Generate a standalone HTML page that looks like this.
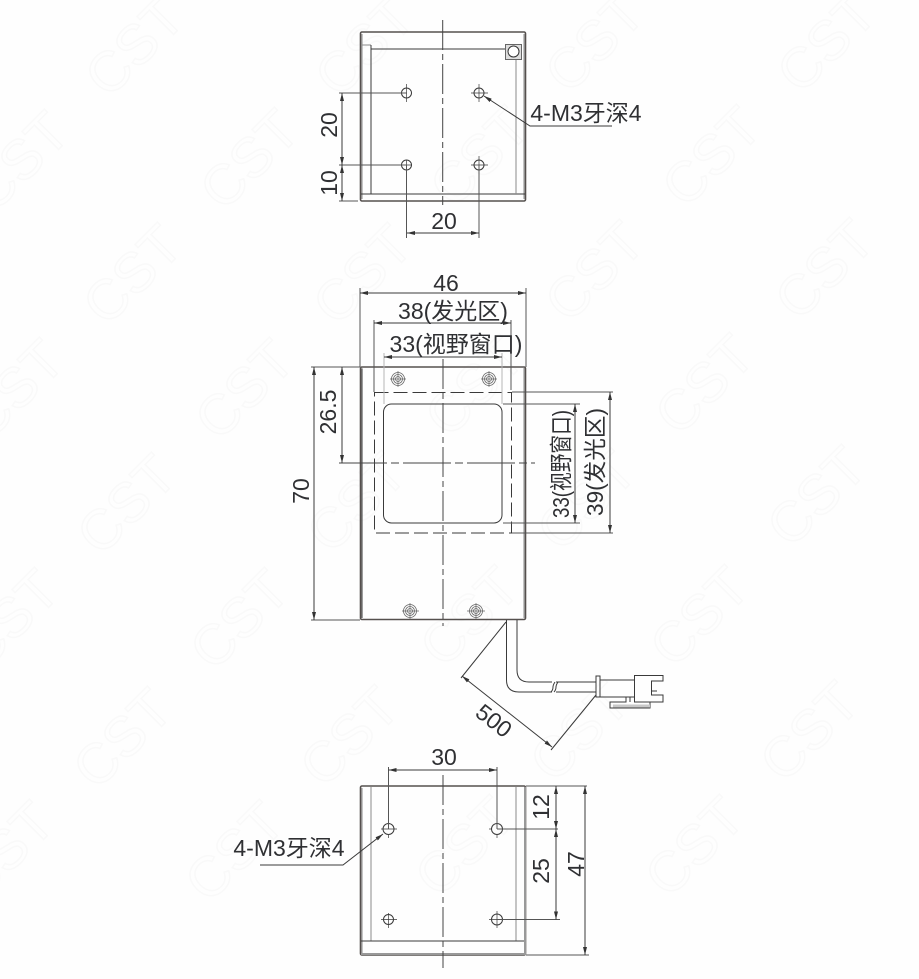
<!DOCTYPE html>
<html>
<head>
<meta charset="utf-8">
<style>
html,body{margin:0;padding:0;background:#fff;width:919px;height:979px;overflow:hidden}
svg{display:block}
.wm text{font-family:"Liberation Sans",sans-serif;font-size:56px;fill:none;stroke:#f9f9f9;stroke-width:1.5;text-anchor:middle}
.t{font-family:"Liberation Sans","Noto Sans CJK SC",sans-serif;font-size:23px;fill:#2f3033;text-anchor:middle}
.l{stroke:#3a3a3a;stroke-width:1;fill:none}
.g{stroke:#8a8a8a;stroke-width:1;fill:none}
.b{stroke:#55504e;stroke-width:1.6;fill:none}
.d{stroke:#3a3a3a;stroke-width:1;fill:none;marker-start:url(#a);marker-end:url(#a)}
.c{stroke:#444;stroke-width:1;fill:none;stroke-dasharray:30 4 6 4}
.h{stroke:#3a3a3a;stroke-width:1;fill:none;stroke-dasharray:14 5}
.s{stroke:#666;stroke-width:.8;fill:none}
</style>
</head>
<body>
<svg width="919" height="979" viewBox="0 0 919 979" xmlns="http://www.w3.org/2000/svg">
<defs>
<marker id="a" viewBox="0 0 8 4" refX="8" refY="2" markerWidth="8" markerHeight="4" markerUnits="userSpaceOnUse" orient="auto-start-reverse"><path d="M0 0L8 2L0 4Z" fill="#333"/></marker>
</defs>
<rect width="919" height="979" fill="#fefefe"/>
<g class="wm">
<text transform="translate(148,60) rotate(-45)">CST</text><text transform="translate(378,60) rotate(-45)">CST</text><text transform="translate(608,56) rotate(-45)">CST</text><text transform="translate(840,56) rotate(-45)">CST</text>
<text transform="translate(33,175) rotate(-45)">CST</text><text transform="translate(263,173) rotate(-45)">CST</text><text transform="translate(493,170) rotate(-45)">CST</text><text transform="translate(725,170) rotate(-45)">CST</text>
<text transform="translate(146,288) rotate(-45)">CST</text><text transform="translate(376,288) rotate(-45)">CST</text><text transform="translate(608,285) rotate(-45)">CST</text><text transform="translate(838,283) rotate(-45)">CST</text>
<text transform="translate(28,403) rotate(-45)">CST</text><text transform="translate(258,403) rotate(-45)">CST</text><text transform="translate(488,400) rotate(-45)">CST</text><text transform="translate(718,398) rotate(-45)">CST</text>
<text transform="translate(140,518) rotate(-45)">CST</text><text transform="translate(370,516) rotate(-45)">CST</text><text transform="translate(600,514) rotate(-45)">CST</text><text transform="translate(830,510) rotate(-45)">CST</text>
<text transform="translate(23,633) rotate(-45)">CST</text><text transform="translate(253,633) rotate(-45)">CST</text><text transform="translate(483,630) rotate(-45)">CST</text><text transform="translate(713,630) rotate(-45)">CST</text>
<text transform="translate(136,752) rotate(-45)">CST</text><text transform="translate(363,750) rotate(-45)">CST</text><text transform="translate(593,745) rotate(-45)">CST</text><text transform="translate(823,745) rotate(-45)">CST</text>
<text transform="translate(18,865) rotate(-45)">CST</text><text transform="translate(248,865) rotate(-45)">CST</text><text transform="translate(478,860) rotate(-45)">CST</text><text transform="translate(708,860) rotate(-45)">CST</text>
</g>

<!-- TOP VIEW -->
<rect class="b" x="360.5" y="32" width="165" height="169" rx="1.5"/>
<path class="g" d="M362 45H371M362 34V199M524 34V199M362 194H524"/>
<path class="l" d="M371 45V194M371 49H505M361 194H525"/>
<path class="g" d="M516 59V194"/>
<rect x="505.5" y="44.5" width="16" height="15" fill="#ddd" stroke="#666"/>
<circle cx="513.5" cy="51.5" r="5.5" fill="#fff" stroke="#333"/>
<path class="c" d="M442.7 20V205"/>
<g class="l">
<circle cx="406.5" cy="93" r="5"/><circle cx="479" cy="93" r="5"/><circle cx="406.5" cy="165" r="5"/><circle cx="479" cy="165" r="5"/>
<path d="M406.5 84V102M474 93H488M479 84V102M471 93H474M406.5 160V170M400 165H412M479 156V174M471 165H488" stroke-width=".7"/>
</g>
<path class="g" d="M339 93H407M339 165H407M339 201H358M406.5 165V238M479 165V238" style="stroke:#555"/>
<path class="d" d="M342 93V165"/>
<path class="d" d="M342 165V201"/>
<path class="d" d="M407 233H479"/>
<text class="t" transform="translate(337,125) rotate(-90)">20</text>
<text class="t" transform="translate(337,183) rotate(-90)">10</text>
<text class="t" x="444" y="229">20</text>
<path class="l" d="M484 96L530 126H612" style="marker-start:url(#a)"/>
<text class="t" x="586" y="121">4-M3牙深4</text>

<!-- MIDDLE VIEW -->
<rect class="b" x="360.5" y="367" width="165" height="252.5" rx="1.5"/>
<path class="g" d="M362 368V618M524 368V618"/>
<path class="l" d="M362 369V618"/>
<rect x="374.5" y="392.5" width="137" height="140.500" class="h"/>
<rect x="383.500" y="404" width="118.500" height="119" rx="8" class="l"/>
<path class="c" d="M443 359V626"/>
<path class="c" d="M339 463H535" style="stroke-dasharray:48 4 8 4"/>
<g class="s">
<circle cx="398" cy="379" r="6.500"/><circle cx="398" cy="379" r="4.500"/><circle cx="398" cy="379" r="2.500"/>
<circle cx="489" cy="379" r="6.500"/><circle cx="489" cy="379" r="4.500"/><circle cx="489" cy="379" r="2.500"/>
<circle cx="410" cy="611" r="6.500"/><circle cx="410" cy="611" r="4.500"/><circle cx="410" cy="611" r="2.500"/>
<circle cx="476" cy="611" r="6.500"/><circle cx="476" cy="611" r="4.500"/><circle cx="476" cy="611" r="2.500"/>
<path d="M390 379H406M398 371V387M481 379H497M489 371V387M402 611H419M410 603V619M467 611H485M476 603V619" stroke-width=".7"/>
</g>
<path class="g" d="M360 288V367M526 288V367M374 320V392M511 320V390M311 367H360M311 620H360M512 392H613M503 404H580M503 523H580M512 533H613" style="stroke:#555"/>
<path d="M384 353V404M502 353V404" stroke="#b5b5b5" stroke-width="1" fill="none"/>
<path class="d" d="M360 293H526"/>
<path class="d" d="M374 323H511"/>
<path class="d" d="M384 357H502"/>
<path class="d" d="M314 367V620"/>
<path class="d" d="M342 367V463"/>
<path class="d" d="M575 404V523"/>
<path class="d" d="M610 392V533"/>
<text class="t" x="446" y="291">46</text>
<text class="t" x="453" y="319">38(发光区)</text>
<text class="t" x="456" y="352">33(视野窗口)</text>
<text class="t" transform="translate(309,491) rotate(-90)">70</text>
<text class="t" transform="translate(336,412) rotate(-90)">26.5</text>
<text class="t" transform="translate(569,464) rotate(-90)" textLength="108" lengthAdjust="spacingAndGlyphs">33(视野窗口)</text>
<text class="t" transform="translate(603,462) rotate(-90)" textLength="108" lengthAdjust="spacingAndGlyphs">39(发光区)</text>

<!-- CABLE -->
<path class="l" d="M506.500 620V680Q506.500 692 519 692H552M517 620V670Q517 682 529 682H552M556 682H596M556 692H596"/>
<path class="l" d="M555 682Q553 685 553 687Q553 690 551 692M558 682Q556 685 556 687Q556 690 554 692" stroke-width=".8"/>
<path class="l" d="M596 676H600V697H596ZM600 680H635M600 697H635" />
<path class="l" d="M634.500 675.500H663V681H651.500V695H663V702H634.500ZM651.500 688V691H657M630 697V702"/>
<path class="l" d="M626 697V702H610V708H650V702"/>
<rect x="613" y="704.500" width="37" height="3" fill="#c8c8c8"/>

<!-- 500 dim -->
<path class="l" d="M506 622L461 678M596 695L551 750"/>
<path class="d" d="M462 676L552 747"/>
<text class="t" transform="translate(489,727) rotate(38)">500</text>

<!-- BOTTOM VIEW -->
<rect class="b" x="360.500" y="786" width="165" height="169" rx="1.500"/>
<path class="g" d="M362 788V953M371 787V941M516 787V941M361 953.500H525"/>
<path class="l" d="M361 941H525"/>
<path d="M361 954H525M525 787V955" stroke="#999" stroke-width="2" fill="none"/>
<path class="c" d="M443 775V968"/>
<g class="l">
<circle cx="388.500" cy="829" r="5.500"/><circle cx="497" cy="829" r="5.500"/><circle cx="388.500" cy="919.500" r="5"/><circle cx="497" cy="919.500" r="5.500"/>
<path d="M381 829H397M489 829H492M388.500 913V928M381 919.500H397M489 919.500H497M497 911V928M388.500 835V838M497 835V838" stroke-width=".7"/>
</g>
<path class="g" d="M388.500 767V829M497 767V829M497 829H558M497 919.500H560M526 786H587M526 955H589" style="stroke:#555"/>
<path class="d" d="M388.500 770H497"/>
<path class="d" d="M556 786V829"/>
<path class="d" d="M556 829V919.500"/>
<path class="d" d="M585 786V955"/>
<text class="t" x="444" y="765">30</text>
<text class="t" transform="translate(549,807) rotate(-90)">12</text>
<text class="t" transform="translate(549,871) rotate(-90)">25</text>
<text class="t" transform="translate(584,864) rotate(-90)">47</text>
<path class="l" d="M383 834L343 865H260" style="marker-start:url(#a)"/>
<text class="t" x="289" y="856">4-M3牙深4</text>
</svg>
</body>
</html>
